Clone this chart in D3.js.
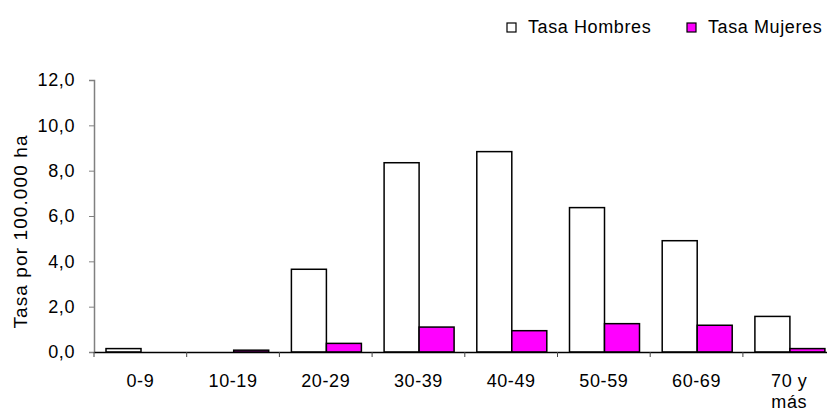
<!DOCTYPE html>
<html>
<head>
<meta charset="utf-8">
<script src="https://cdn.jsdelivr.net/npm/d3@7"></script>
<style>
  body { margin: 0; background: #fff; }
  text { font-family: "Liberation Sans", Arial, sans-serif; fill: #000; }
</style>
</head>
<body>
<div id="chart-area"></div>
<script>
// data
const groups = ["0-9", "10-19", "20-29", "30-39", "40-49", "50-59", "60-69", "70 y más"];
const hombres = [0.15, 0, 3.65, 8.35, 8.84, 6.37, 4.91, 1.57];
const mujeres = [0, 0.08, 0.38, 1.1, 0.94, 1.25, 1.18, 0.15];
const series = ["Tasa Hombres", "Tasa Mujeres"];
const colors = ["#ffffff", "#ff00ff"];
const yTicks = [0, 2, 4, 6, 8, 10, 12];

const W = 827, H = 413;
const MARGIN = {left: 94, top: 80, bottom: 61};
const bandW = 92.7;
const FS = "18px", LS = "0.6px";

const svg = d3.select("#chart-area").append("svg")
  .attr("width", W)
  .attr("height", H);

const x0 = d3.scaleBand()
  .domain(groups)
  .range([MARGIN.left, MARGIN.left + bandW * groups.length]);

const x1 = d3.scaleBand()
  .domain(series)
  .range([12, 82]);

const y = d3.scaleLinear()
  .domain([0, 12])
  .range([H - MARGIN.bottom, MARGIN.top]);

// y axis
const yAxis = svg.append("g")
  .attr("transform", `translate(${MARGIN.left},0)`)
  .call(d3.axisLeft(y).tickValues(yTicks).tickSize(5).tickPadding(14)
    .tickFormat(d => d3.format(".1f")(d).replace(".", ",")));
yAxis.select(".domain").attr("stroke", "#808080").attr("stroke-width", 1.5);
yAxis.selectAll(".tick line").attr("stroke", "#808080");
yAxis.selectAll(".tick text").style("font-size", FS).style("letter-spacing", LS).attr("fill", "#000");

// bars
const rows = groups.map((g, i) => ({g: g, vals: [hombres[i], mujeres[i]]}));

const grp = svg.selectAll(".grp")
  .data(rows)
  .enter().append("g")
  .attr("transform", d => `translate(${x0(d.g)},0)`);

grp.selectAll("rect")
  .data(d => d.vals.map((v, j) => ({s: series[j], v: v, c: colors[j]})))
  .enter().append("rect")
  .filter(d => d.v > 0)
  .attr("x", d => x1(d.s))
  .attr("y", d => y(d.v))
  .attr("width", x1.bandwidth())
  .attr("height", d => y(0) - y(d.v))
  .attr("fill", d => d.c)
  .attr("stroke", "#000")
  .attr("stroke-width", 1.5);

// x axis
const xAxis = svg.append("g")
  .attr("transform", `translate(0,${y(0)})`)
  .call(d3.axisBottom(x0).tickSize(0).tickPadding(22));
xAxis.select(".domain").attr("stroke", "#000").attr("stroke-width", 1.5);
xAxis.selectAll(".tick text").style("font-size", FS).style("letter-spacing", LS).attr("fill", "#000")
  .each(function(d) {
    const t = d3.select(this);
    if (d === "70 y más") {
      t.text(null);
      t.append("tspan").attr("x", 0).text("70 y");
      t.append("tspan").attr("x", 0).attr("dy", "1.2em").text("más");
    }
  });

// category separators
svg.selectAll(".sep")
  .data(groups)
  .enter().append("line")
  .attr("x1", d => x0(d)).attr("x2", d => x0(d))
  .attr("y1", y(0)).attr("y2", y(0) + 5)
  .attr("stroke", "#444");

// y title
svg.append("text")
  .attr("transform", `translate(27,${(133 + 330) / 2}) rotate(-90)`)
  .attr("text-anchor", "middle")
  .style("font-size", "19px")
  .style("letter-spacing", "1.1px")
  .text("Tasa por 100.000 ha");

// legend
const legend = svg.selectAll(".legend")
  .data(series)
  .enter().append("g")
  .attr("transform", (d, i) => `translate(${507 + i * 180},23)`);

legend.append("rect")
  .attr("width", 9).attr("height", 9)
  .attr("fill", (d, i) => colors[i])
  .attr("stroke", "#000").attr("stroke-width", 1.2);

legend.append("text")
  .attr("x", 21).attr("y", 10)
  .style("font-size", FS)
  .style("letter-spacing", LS)
  .text(d => d);
</script>
</body>
</html>
